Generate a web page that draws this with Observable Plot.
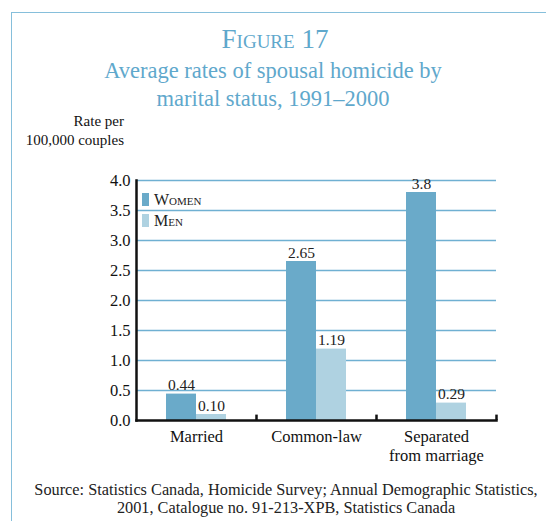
<!DOCTYPE html>
<html>
<head>
<meta charset="utf-8">
<script src="https://cdn.jsdelivr.net/npm/d3@7"></script>
<script src="https://cdn.jsdelivr.net/npm/@observablehq/plot@0.6"></script>
<style>
  html, body { margin: 0; padding: 0; background: #fff; }
  body { width: 546px; height: 521px; position: relative; overflow: hidden; font-family: "Liberation Serif", "Times New Roman", serif; }
  #chart svg, #chart svg text { font-family: "Liberation Serif", "Times New Roman", serif !important; }
  .border { position: absolute; left: 11px; top: 12px; right: -5px; bottom: -5px; border: 1.5px solid #86bfdb; }
  .title { position: absolute; width: 546px; text-align: center; color: #5fa8cc; }
  #t1 { top: 24px; font-size: 27px; font-variant: small-caps; left: 2px; }
  #t2 { top: 57px; font-size: 22.5px; line-height: 28px; left: 0px; }
  #ylab { position: absolute; right: 422px; top: 112px; text-align: right; font-size: 15px; line-height: 19px; color: #111; }
  #chart { position: absolute; left: 0; top: 160px; }
  #legend { position: absolute; left: 142px; top: 189px; font-size: 16px; font-variant: small-caps; color: #222; }
  #legend div { height: 21px; display: flex; align-items: center; }
  #legend span.sw { display: inline-block; width: 7px; height: 13px; margin-right: 5px; }
  #source { position: absolute; left: 13px; width: 546px; top: 481px; text-align: center; font-size: 16.3px; line-height: 18px; color: #222; }
</style>
</head>
<body>
<div class="border"></div>
<div class="title" id="t1">Figure 17</div>
<div class="title" id="t2">Average rates of spousal homicide by<br>marital status, 1991–2000</div>
<div id="ylab">Rate per<br>100,000 couples</div>
<div id="chart"></div>
<div id="legend"></div>
<div id="source">Source: Statistics Canada, Homicide Survey; Annual Demographic Statistics,<br>2001, Catalogue no. 91-213-XPB, Statistics Canada</div>
<script>
const categories = ["Married", "Common-law", "Separated\nfrom marriage"];
const series = ["Women", "Men"];
const women = [0.44, 2.65, 3.8];
const men = [0.10, 1.19, 0.29];
const womenLabels = ["0.44", "2.65", "3.8"];
const menLabels = ["0.10", "1.19", "0.29"];
const yTicks = [0, 0.5, 1, 1.5, 2, 2.5, 3, 3.5, 4];
const colors = ["#6aaac9", "#afd2e1"];

const wData = categories.map((c, i) => ({cat: c, v: women[i], label: womenLabels[i]}));
const mData = categories.map((c, i) => ({cat: c, v: men[i], label: menLabels[i]}));

const plot = Plot.plot({
  width: 546,
  height: 310,
  marginLeft: 136,
  marginRight: 50,
  marginTop: 20,
  marginBottom: 50,
  style: {fontFamily: "Liberation Serif, serif", fontSize: "15px", color: "#111", background: "transparent"},
  x: {domain: categories, padding: 0, label: null},
  y: {domain: [0, 4], label: null},
  marks: [
    Plot.ruleY(yTicks.filter(d => d > 0), {stroke: "#6fb0d2", strokeWidth: 1.5}),
    Plot.barY(wData, {x: "cat", y: "v", fill: colors[0], insetLeft: 30, insetRight: 60}),
    Plot.barY(mData, {x: "cat", y: "v", fill: colors[1], insetLeft: 60, insetRight: 30}),
    Plot.text(wData, {x: "cat", y: "v", text: "label", dx: -15, dy: -4, lineAnchor: "bottom", fontSize: 15.5, fill: "#222"}),
    Plot.text(mData, {x: "cat", y: "v", text: "label", dx: 15, dy: -4, lineAnchor: "bottom", fontSize: 15.5, fill: "#222"}),
    Plot.ruleX(categories, {x: d => d, dx: 60, y1: 0, y2: 0.09, stroke: "#111", strokeWidth: 2.5}),
    Plot.axisY({ticks: yTicks, tickFormat: d3.format(".1f"), tickSize: 0, tickPadding: 6, fontSize: 16.5, label: null}),
    Plot.axisX({tickSize: 0, tickPadding: 9, fontSize: 16.5, lineHeight: 1.1, label: null}),
    Plot.frame({anchor: "left", stroke: "#111", strokeWidth: 2.5}),
    Plot.frame({anchor: "bottom", stroke: "#111", strokeWidth: 2.5})
  ]
});
document.getElementById("chart").appendChild(plot);

const legend = document.getElementById("legend");
series.forEach((s, i) => {
  const row = document.createElement("div");
  const sw = document.createElement("span");
  sw.className = "sw";
  sw.style.background = colors[i];
  row.appendChild(sw);
  row.appendChild(document.createTextNode(s));
  legend.appendChild(row);
});
</script>
</body>
</html>
